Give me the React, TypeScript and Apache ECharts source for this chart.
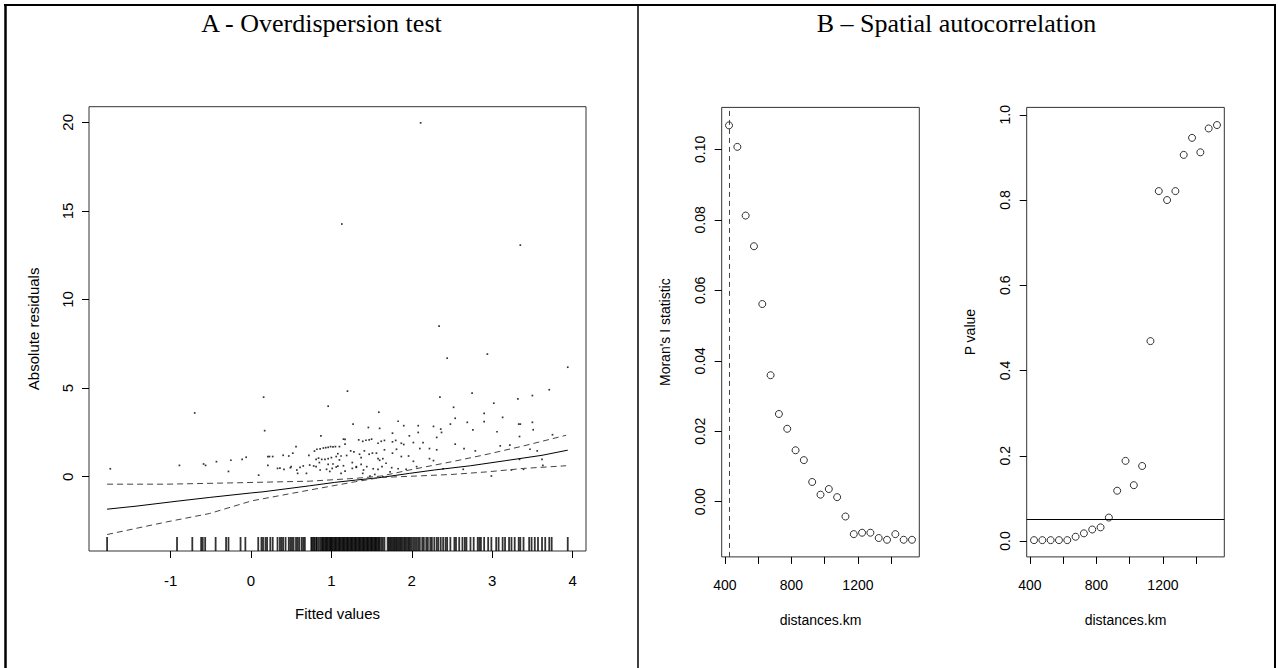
import React, { useEffect, useRef } from "react";
import * as echarts from "echarts";

// ---------- Panel A : overdispersion test ----------
const fittedTicks = [-1, 0, 1, 2, 3, 4];
const residTicks = [0, 5, 10, 15, 20];

const residPoints: [number, number][] = [
  [2.11, 19.97], [1.13, 14.26], [3.35, 13.07], [2.34, 8.5], [2.44, 6.69], [2.94, 6.92], [3.94, 6.18],
  [-1.75, 0.45], [-0.89, 0.64], [-0.7, 3.6], [-0.59, 0.72], [-0.565, 0.64], [-0.43, 0.85], [-0.28, 0.3],
  [-0.25, 0.93], [-0.11, 0.98], [-0.06, 1.1], [0.095, 0.09], [0.157, 4.49], [0.17, 2.6], [0.21, 1.14],
  [0.23, 1.14], [0.27, 1.14], [0.21, 0.64], [0.36, 0.49], [0.4, 1.21], [0.41, 0.42], [0.47, 1.17],
  [0.49, 0.51], [0.52, 1.33], [0.56, 1.7], [0.58, 0.19], [0.61, 0.53], [0.65, 0.61], [0.69, 0.19],
  [0.72, 1.21], [0.78, 0.61], [0.82, 1.55], [0.87, 2.31], [0.9, 1.62], [0.93, 1.64], [0.96, 1.66],
  [0.99, 1.7], [1.02, 1.68], [1.05, 1.7], [0.96, 3.98], [0.88, 0.98], [0.92, 0.98], [0.96, 1.02],
  [1.0, 1.08], [1.06, 1.14], [1.12, 1.17], [0.94, 0.42], [0.98, 0.3], [1.02, 0.72], [1.06, 0.55],
  [1.1, 0.95], [1.15, 2.12], [1.17, 1.84], [1.2, 4.83], [1.12, 0.19], [1.08, 1.3], [0.85, 0.8],
  [1.15, 0.62], [0.79, 1.45], [0.86, 1.57], [1.1, 1.7], [1.17, 2.11], [0.81, 0.98], [0.84, 1.05],
  [1.19, 1.2], [0.33, 0.47], [0.5, 0.57], [0.57, 0.38], [0.73, 0.66], [0.81, 0.57], [0.86, 0.38],
  [0.96, 0.7], [1.01, 0.47], [1.08, 0.6], [1.17, 0.32], [1.26, 0.47], [1.4, 0.38], [1.31, 0.53],
  [1.59, 3.64], [1.27, 2.97], [1.46, 2.78], [1.6, 2.73], [1.83, 3.13], [1.76, 2.46], [1.9, 2.88],
  [2.08, 2.88], [2.08, 2.5], [2.27, 2.84], [2.35, 4.49], [2.36, 2.69], [2.37, 2.5], [2.31, 2.22],
  [2.48, 2.97], [2.52, 3.92], [2.54, 3.3], [2.69, 3.07], [2.75, 4.72], [2.76, 2.65], [2.9, 3.58],
  [2.9, 3.11], [3.02, 4.15], [3.06, 2.54], [3.13, 3.35], [3.32, 4.39], [3.33, 2.97], [3.35, 2.97],
  [3.5, 4.58], [3.5, 3.07], [3.51, 2.65], [3.71, 4.91], [3.75, 2.37], [1.34, 2.08], [1.39, 2.0],
  [1.43, 2.06], [1.47, 2.08], [1.5, 2.12], [1.58, 1.89], [1.62, 2.0], [1.66, 2.05], [1.76, 1.97],
  [1.8, 2.05], [1.87, 1.89], [1.9, 1.82], [1.97, 2.31], [2.02, 1.93], [2.1, 1.59], [2.14, 1.93],
  [2.22, 1.59], [2.31, 1.52], [2.54, 1.84], [2.65, 1.59], [2.79, 1.46], [3.1, 1.74], [3.22, 1.78],
  [3.34, 2.27], [3.47, 1.55], [3.56, 1.46], [3.62, 0.98], [3.39, 0.42], [2.99, 0.04], [3.34, 0.98],
  [3.63, 0.64], [3.24, 0.38], [1.28, 1.4], [1.35, 1.27], [1.37, 1.08], [1.41, 1.46], [1.47, 1.27],
  [1.51, 1.33], [1.56, 1.33], [1.58, 1.02], [1.6, 0.93], [1.64, 1.02], [1.66, 1.52], [1.76, 1.33],
  [1.81, 1.55], [1.87, 1.14], [1.96, 1.17], [2.02, 0.87], [2.22, 1.02], [2.27, 0.91], [1.24, 1.46],
  [1.26, 0.8], [1.31, 0.57], [1.37, 0.7], [1.44, 0.57], [1.52, 0.45], [1.58, 0.42], [1.63, 0.57],
  [1.68, 0.76], [1.75, 0.51], [1.83, 0.45], [1.93, 0.42], [2.06, 0.57], [2.39, 0.45], [1.39, 0.19],
  [1.48, 0.04], [1.54, 0.13], [1.64, 0.0], [1.73, 0.27], [2.64, 0.42],
];

const rugFitted = [
  -1.79, -0.92, -0.73, -0.62, -0.6, -0.57, -0.44, -0.31, -0.28, -0.13, -0.07, 0.09, 0.13, 0.15, 0.18,
  0.2, 0.24, 0.27, 0.33, 0.36, 0.38, 0.4, 0.43, 0.47, 0.49, 0.51, 0.53, 0.56, 0.58, 0.6, 0.63, 0.65,
  0.67, 0.75, 0.76, 0.78, 0.79, 0.81, 0.82, 0.84, 0.86, 0.88, 0.89, 0.9, 0.915, 0.93, 0.94, 0.95,
  0.965, 0.98, 0.99, 1.0, 1.01, 1.025, 1.04, 1.05, 1.06, 1.075, 1.09, 1.1, 1.11, 1.125, 1.14, 1.15,
  1.16, 1.175, 1.19, 1.2, 1.21, 1.225, 1.24, 1.25, 1.26, 1.275, 1.29, 1.3, 1.31, 1.325, 1.34, 1.35,
  1.36, 1.375, 1.39, 1.4, 1.41, 1.425, 1.44, 1.45, 1.46, 1.475, 1.49, 1.5, 1.51, 1.525, 1.54, 1.55,
  1.56, 1.575, 1.59, 1.6, 1.62, 1.64, 1.66, 1.7, 1.715, 1.73, 1.745, 1.76, 1.775, 1.79, 1.805, 1.82,
  1.835, 1.85, 1.865, 1.88, 1.9, 1.915, 1.93, 1.95, 1.965, 1.98, 2.0, 2.02, 2.04, 2.06, 2.08, 2.1,
  2.13, 2.15, 2.18, 2.2, 2.23, 2.25, 2.28, 2.31, 2.33, 2.36, 2.39, 2.42, 2.44, 2.48, 2.53, 2.55, 2.59,
  2.63, 2.66, 2.68, 2.73, 2.77, 2.82, 2.84, 2.86, 2.9, 2.95, 2.99, 3.05, 3.08, 3.13, 3.16, 3.21, 3.24,
  3.28, 3.33, 3.35, 3.39, 3.46, 3.49, 3.53, 3.57, 3.62, 3.66, 3.71, 3.74, 3.94,
];

const fitLine: [number, number][] = [
  [-1.79, -1.83], [-1.43, -1.66], [-0.92, -1.38], [-0.52, -1.17], [0.01, -0.91], [0.15, -0.85],
  [0.73, -0.51], [1.04, -0.32], [1.3, -0.19], [1.62, -0.04], [1.97, 0.19], [2.28, 0.38], [2.73, 0.62],
  [3.17, 0.91], [3.62, 1.21], [3.94, 1.5],
];
const upperBand: [number, number][] = [
  [-1.79, -0.42], [-1.05, -0.42], [-0.17, -0.34], [0.73, -0.25], [1.3, -0.09], [1.62, 0.04],
  [1.97, 0.38], [2.5, 0.85], [2.95, 1.28], [3.39, 1.74], [3.92, 2.34],
];
const lowerBand: [number, number][] = [
  [-1.79, -3.26], [-1.05, -2.55], [-0.52, -2.08], [0.01, -1.36], [0.73, -0.75], [1.3, -0.28],
  [1.62, -0.04], [2.06, 0.04], [2.5, 0.13], [2.95, 0.28], [3.39, 0.47], [3.92, 0.62],
];

// ---------- Panel B : spatial autocorrelation ----------
const distancesKm = [
  425, 475, 525, 575, 625, 675, 725, 775, 825, 875, 925, 975, 1025, 1075, 1125, 1175, 1225, 1275,
  1325, 1375, 1425, 1475, 1525,
];
const moransI = [
  0.1068, 0.1007, 0.0812, 0.0725, 0.0561, 0.0359, 0.0249, 0.0207, 0.0146, 0.0118, 0.0056, 0.002,
  0.0036, 0.0013, -0.0042, -0.0092, -0.0088, -0.0088, -0.0103, -0.0108, -0.0092, -0.0108, -0.0108,
];
const pValues = [
  0.002, 0.002, 0.002, 0.002, 0.002, 0.01, 0.018, 0.027, 0.032, 0.055, 0.118, 0.188, 0.131, 0.176,
  0.469, 0.821, 0.8, 0.821, 0.906, 0.946, 0.912, 0.968, 0.976,
];
const distanceTicks = [400, 600, 800, 1000, 1200, 1400];
const distanceLabels = [400, 800, 1200];
const moranTicks = [0, 0.02, 0.04, 0.06, 0.08, 0.1];
const pTicks = [0, 0.2, 0.4, 0.6, 0.8, 1.0];
const pThreshold = 0.05;
const moranCutoffKm = 425;

const SANS = "'Liberation Sans', Arial, Helvetica, sans-serif";
const SERIF = "'Liberation Serif', 'Times New Roman', Times, serif";

function valueAxis(o: {
  gridIndex: number; min: number; max: number; ticks: number[]; labels: number[];
  fontSize: number; margin: number; name: string; nameGap: number; rotate?: number;
  fmt: (v: number) => string;
}) {
  return {
    type: "value",
    gridIndex: o.gridIndex,
    min: o.min,
    max: o.max,
    axisLine: { show: false, onZero: false },
    splitLine: { show: false },
    axisTick: {
      show: true, inside: false, length: 7, customValues: o.ticks,
      lineStyle: { color: "#000", width: 1 },
    },
    axisLabel: {
      show: true, customValues: o.labels, margin: o.margin, rotate: o.rotate || 0,
      fontSize: o.fontSize, color: "#000", fontFamily: SANS,
      formatter: (v: number) => o.fmt(v),
    },
    name: o.name,
    nameLocation: "middle",
    nameGap: o.nameGap,
    nameRotate: o.rotate ? 90 : 0,
    nameTextStyle: { fontSize: o.fontSize, color: "#000", fontFamily: SANS },
  };
}

export default function App() {
  const ref = useRef<HTMLDivElement>(null);
  useEffect(() => {
    if (!ref.current) return;
    const chart = echarts.init(ref.current, undefined, { renderer: "svg" });
    const gridBase = { show: true, borderColor: "#333", borderWidth: 1, backgroundColor: "transparent", containLabel: false };
    const yMinA = -4.19;
    const option: any = {
      animation: false,
      backgroundColor: "#fff",
      grid: [
        { ...gridBase, left: 89, top: 106.7, width: 497, height: 444.3 },
        { ...gridBase, left: 721.7, top: 107.4, width: 197.6, height: 449.5 },
        { ...gridBase, left: 1026.7, top: 107.4, width: 197.6, height: 449.5 },
      ],
      xAxis: [
        valueAxis({ gridIndex: 0, min: -2.015, max: 4.167, ticks: fittedTicks, labels: fittedTicks, fontSize: 15, margin: 22, name: "Fitted values", nameGap: 55, fmt: (v) => String(v) }),
        valueAxis({ gridIndex: 1, min: 381, max: 1569, ticks: distanceTicks, labels: distanceLabels, fontSize: 14, margin: 21, name: "distances.km", nameGap: 56, fmt: (v) => String(v) }),
        valueAxis({ gridIndex: 2, min: 381, max: 1569, ticks: distanceTicks, labels: distanceLabels, fontSize: 14, margin: 21, name: "distances.km", nameGap: 56, fmt: (v) => String(v) }),
      ],
      yAxis: [
        valueAxis({ gridIndex: 0, min: yMinA, max: 20.88, ticks: residTicks, labels: residTicks, fontSize: 15, margin: 14, rotate: 90, name: "Absolute residuals", nameGap: 48, fmt: (v) => String(v) }),
        valueAxis({ gridIndex: 1, min: -0.01566, max: 0.1119, ticks: moranTicks, labels: moranTicks, fontSize: 14, margin: 15, rotate: 90, name: "Moran's I statistic", nameGap: 50, fmt: (v) => v.toFixed(2) }),
        valueAxis({ gridIndex: 2, min: -0.0373, max: 1.0174, ticks: pTicks, labels: pTicks, fontSize: 14, margin: 15, rotate: 90, name: "P value", nameGap: 50, fmt: (v) => v.toFixed(1) }),
      ],
      graphic: [
        { type: "line", shape: { x1: 5.5, y1: 4, x2: 5.5, y2: 668 }, style: { stroke: "#000", lineWidth: 2.5 } },
        { type: "line", shape: { x1: 4, y1: 5, x2: 1276, y2: 5 }, style: { stroke: "#000", lineWidth: 2 } },
        { type: "line", shape: { x1: 638, y1: 5, x2: 638, y2: 668 }, style: { stroke: "#000", lineWidth: 1.5 } },
        { type: "line", shape: { x1: 1275, y1: 4, x2: 1275, y2: 668 }, style: { stroke: "#000", lineWidth: 2 } },
        { type: "text", x: 321.5, y: 23, style: { text: "A - Overdispersion test", fill: "#000", font: `26px ${SERIF}`, align: "center", verticalAlign: "middle" } },
        { type: "text", x: 956.5, y: 23, style: { text: "B \u2013 Spatial autocorrelation", fill: "#000", font: `26px ${SERIF}`, align: "center", verticalAlign: "middle" } },
      ],
      series: [
        {
          type: "scatter", xAxisIndex: 0, yAxisIndex: 0, data: residPoints, symbol: "rect", symbolSize: 1.7,
          itemStyle: { color: "#000" }, silent: true,
        },
        {
          type: "scatter", xAxisIndex: 0, yAxisIndex: 0, data: rugFitted.map((f) => [f, yMinA]),
          symbol: "rect", symbolSize: [1.8, 14], symbolOffset: [0, -7], clip: false,
          itemStyle: { color: "#000" }, silent: true,
        },
        {
          type: "line", xAxisIndex: 0, yAxisIndex: 0, data: fitLine, showSymbol: false, symbol: "none",
          lineStyle: { color: "#000", width: 1 }, silent: true,
        },
        {
          type: "line", xAxisIndex: 0, yAxisIndex: 0, data: upperBand, showSymbol: false, symbol: "none",
          lineStyle: { color: "#444", width: 1, type: [6, 4] }, silent: true,
        },
        {
          type: "line", xAxisIndex: 0, yAxisIndex: 0, data: lowerBand, showSymbol: false, symbol: "none",
          lineStyle: { color: "#444", width: 1, type: [6, 4] }, silent: true,
        },
        {
          type: "scatter", xAxisIndex: 1, yAxisIndex: 1,
          data: distancesKm.map((d, i) => [d, moransI[i]]),
          symbol: "circle", symbolSize: 7,
          itemStyle: { color: "rgba(0,0,0,0)", borderColor: "#000", borderWidth: 1 }, silent: true,
          markLine: {
            silent: true, symbol: "none", label: { show: false },
            lineStyle: { color: "#444", width: 1, type: [5, 4] },
            data: [{ xAxis: moranCutoffKm }],
          },
        },
        {
          type: "scatter", xAxisIndex: 2, yAxisIndex: 2,
          data: distancesKm.map((d, i) => [d, pValues[i]]),
          symbol: "circle", symbolSize: 7,
          itemStyle: { color: "rgba(0,0,0,0)", borderColor: "#000", borderWidth: 1 }, silent: true,
          markLine: {
            silent: true, symbol: "none", label: { show: false },
            lineStyle: { color: "#000", width: 1, type: "solid" },
            data: [{ yAxis: pThreshold }],
          },
        },
      ],
    };
    chart.setOption(option);
    return () => chart.dispose();
  }, []);
  return (
    <div
      ref={ref}
      style={{ position: "absolute", left: 0, top: 0, width: 1278, height: 668, background: "#fff" }}
    />
  );
}
